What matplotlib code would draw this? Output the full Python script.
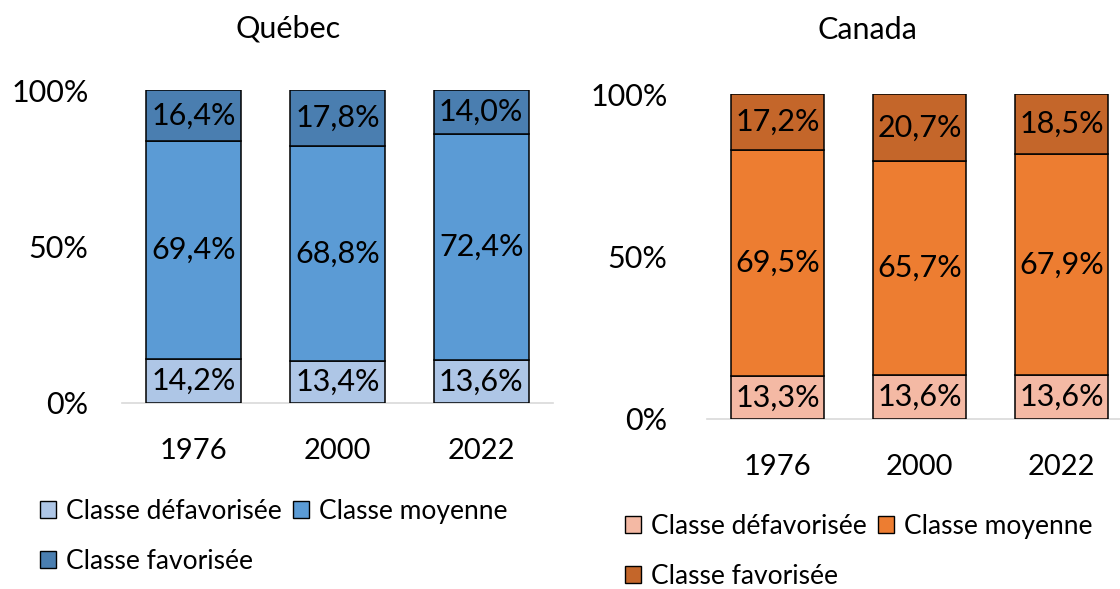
import matplotlib
matplotlib.use('Agg')
import matplotlib.pyplot as plt
from matplotlib.patches import Patch

plt.rcParams['font.family'] = ['Lato', 'DejaVu Sans']

years = ['1976', '2000', '2022']
classes = ['Classe défavorisée', 'Classe moyenne', 'Classe favorisée']

# parts in %
quebec_low = [14.2, 13.4, 13.6]
quebec_mid = [69.4, 68.8, 72.4]
quebec_high = [16.4, 17.8, 14.0]

canada_low = [13.3, 13.6, 13.6]
canada_mid = [69.5, 65.7, 67.9]
canada_high = [17.2, 20.7, 18.5]

qc_colors = ['#aec6e6', '#5b9bd5', '#4a7eb0']
ca_colors = ['#f4b9a4', '#ed7d31', '#c4662a']

W, H = 1120, 589
fig = plt.figure(figsize=(W / 100, H / 100), dpi=100)


def px_axes(left, right, top, bottom):
    return fig.add_axes([left / W, (H - bottom) / H, (right - left) / W, (bottom - top) / H])


def stacked(ax, series, colors):
    x = range(len(years))
    base = [0] * len(years)
    for vals, col in zip(series, colors):
        bars = ax.bar(x, vals, bottom=base, width=0.66, color=col,
                      edgecolor='black', linewidth=1.1, zorder=3)
        for b, v, b0 in zip(bars, vals, base):
            ax.text(b.get_x() + b.get_width() / 2, b0 + v / 2,
                    f'{v:.1f}%'.replace('.', ','), ha='center', va='center',
                    fontsize=22, color='black', zorder=4)
        base = [a + v for a, v in zip(base, vals)]
    ax.set_xlim(-0.5, 2.5)
    ax.set_ylim(0, 100)
    ax.set_xticks(list(x))
    ax.set_xticklabels(years, fontsize=21)
    ax.set_yticks([0, 50, 100])
    ax.set_yticklabels(['0%', '50%', '100%'], fontsize=22)
    ax.tick_params(axis='both', length=0)
    ax.tick_params(axis='x', pad=25)
    for s in ['top', 'right', 'left']:
        ax.spines[s].set_visible(False)
    ax.spines['bottom'].set_color('#d9d9d9')
    ax.spines['bottom'].set_linewidth(1.2)


#%%
ax1 = px_axes(122, 553, 90, 403)
stacked(ax1, [quebec_low, quebec_mid, quebec_high], qc_colors)
ax1.tick_params(axis='y', pad=24)

ax2 = px_axes(706.5, 1132.5, 94, 419)
stacked(ax2, [canada_low, canada_mid, canada_high], ca_colors)
ax2.tick_params(axis='y', pad=28)

fig.text(288 / W, 1 - 28 / H, 'Québec', ha='center', va='center', fontsize=22)
fig.text(867 / W, 1 - 30 / H, 'Canada', ha='center', va='center', fontsize=22)

#%%
# legends: row-wise order with 2 columns
order = [0, 2, 1]
for colors, anchor in [(qc_colors, (40 / W, 1 - 499 / H)), (ca_colors, (625 / W, 1 - 514 / H))]:
    handles = [Patch(facecolor=colors[i], edgecolor='black', linewidth=1.0, label=classes[i]) for i in order]
    fig.legend(handles=handles, loc='upper left', bbox_to_anchor=anchor, ncol=2,
               frameon=False, fontsize=19, handlelength=0.6, handleheight=0.6,
               handletextpad=0.4, columnspacing=0.4, labelspacing=0.93, borderpad=0,
               borderaxespad=0)

fig.savefig('out.png', dpi=100)
